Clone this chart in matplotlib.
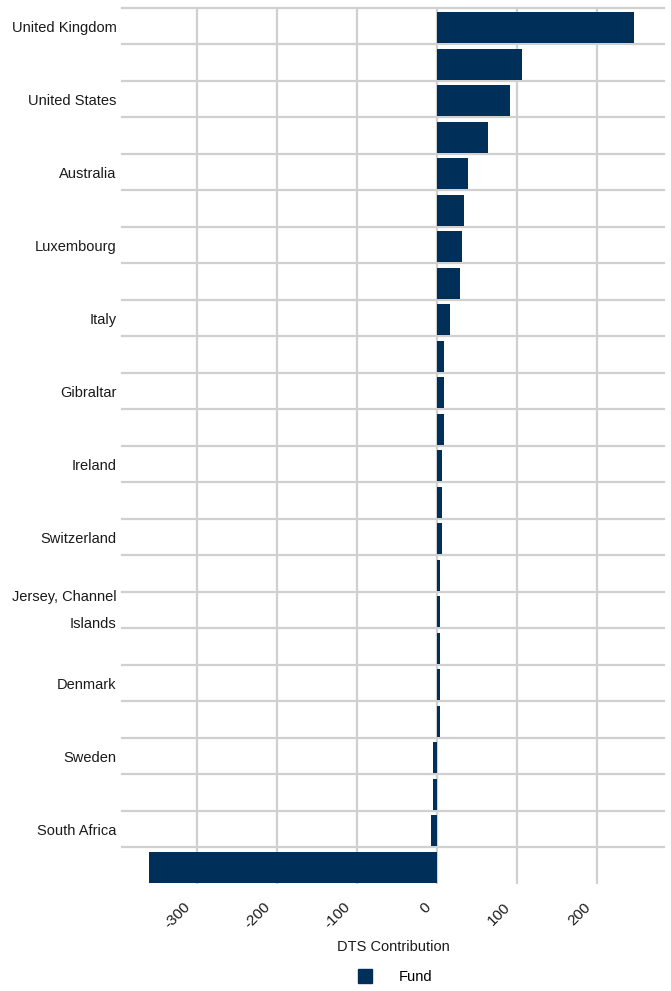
import matplotlib.pyplot as plt
from matplotlib.lines import Line2D
import matplotlib.transforms as mtransforms
import numpy as np

plt.rcParams['font.family'] = ['Liberation Sans', 'DejaVu Sans']

# country labels (only every second one is shown on the axis)
labels = ['United Kingdom', '', 'United States', '', 'Australia', '',
          'Luxembourg', '', 'Italy', '', 'Gibraltar', '', 'Ireland', '',
          'Switzerland', '', 'Jersey, Channel\nIslands', '', 'Denmark', '',
          'Sweden', '', 'South Africa', '']
dts = [246, 106, 91.5, 64, 39, 34, 31.5, 29, 16.5, 9, 9, 9, 6.5, 6.5, 6.5,
       4, 4, 4, 4, 4, -5, -5, -7.5, -360]
xticks = [-300, -200, -100, 0, 100, 200]

bar_col = '#00305A'
grid_col = '#d0d0d0'
txt_col = '#1a1a1a'
fs = 10.5

fig = plt.figure(figsize=(6.71, 9.91), dpi=100)
ax = fig.add_axes([0.182, 0.108, 0.808, 0.884])

y = np.arange(len(dts))
ax.barh(y + 0.04, dts, height=0.85, color=bar_col, zorder=3)

ax.set_ylim(len(dts) - 0.5, -0.5)
ax.set_xlim(-394, 284)

ax.set_yticks(y)
ax.set_yticklabels(labels, fontsize=fs, color=txt_col, linespacing=2.15,
                   multialignment='right')
for lbl in ax.get_yticklabels():
    if '\n' in lbl.get_text():
        lbl.set_va('center')

# x tick labels drawn by hand so they can sit down-left of the gridline
ax.set_xticks(xticks)
ax.set_xticklabels([])
off = mtransforms.ScaledTranslation(-0.14, -0.16, fig.dpi_scale_trans)
for v in xticks:
    ax.text(v, 0, str(v), transform=ax.get_xaxis_transform() + off,
            rotation=45, ha='right', va='top', rotation_mode='anchor',
            fontsize=fs + 0.5, color=txt_col)

ax.tick_params(which='both', length=0)
ax.tick_params(axis='y', pad=4)

ax.grid(axis='x', which='major', color=grid_col, lw=1.6, zorder=0)
# category separators
for b in np.arange(-0.5, len(dts) - 1):
    ax.axhline(b, color=grid_col, lw=1.6, zorder=1, clip_on=False)

for s in ax.spines.values():
    s.set_visible(False)

ax.set_xlabel('DTS Contribution', fontsize=fs, color=txt_col, labelpad=37)

handle = Line2D([], [], marker='s', ls='', color=bar_col, markersize=10)
fig.legend([handle], ['Fund'], loc='center', bbox_to_anchor=(0.583, 0.014),
           frameon=False, fontsize=fs, handletextpad=1.3)

fig.savefig('out.png', dpi=100)
